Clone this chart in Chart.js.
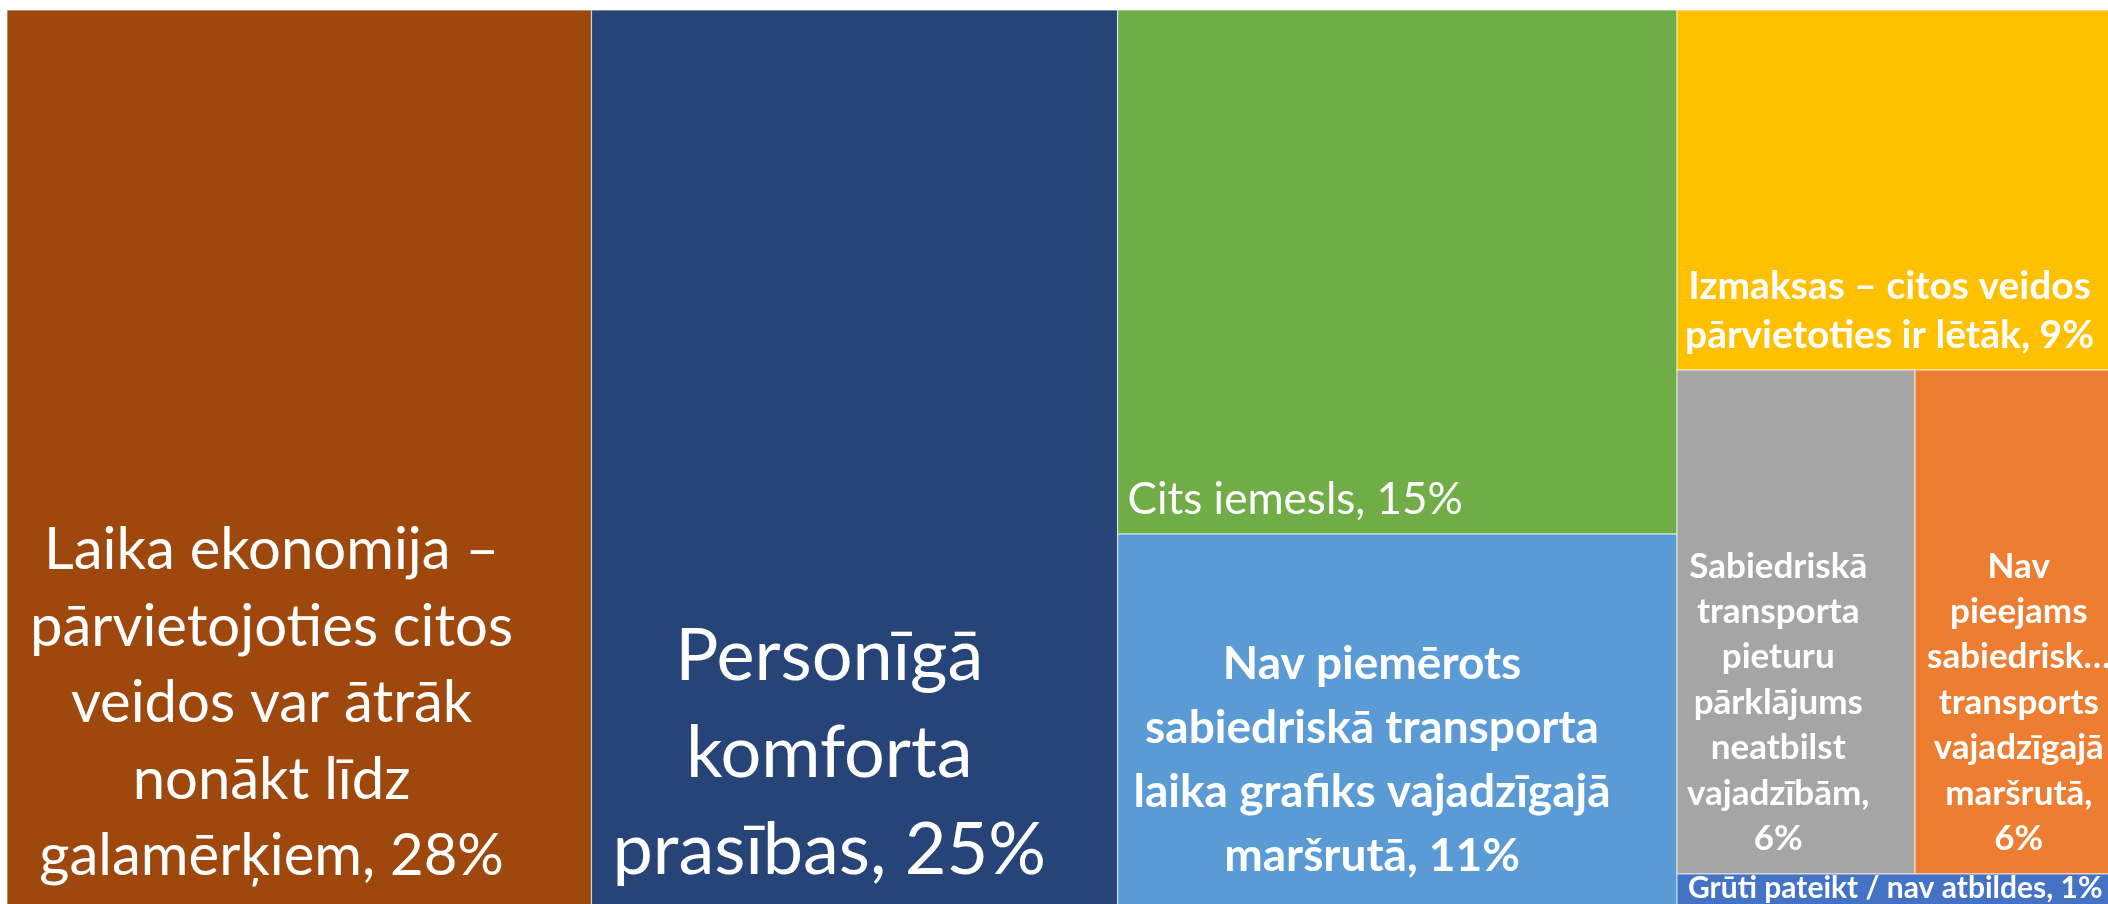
<!DOCTYPE html>
<html><head><meta charset="utf-8">
<script src="https://cdn.jsdelivr.net/npm/chart.js@4.4.1/dist/chart.umd.min.js"></script>
<style>
html,body{margin:0;padding:0;background:#fff;overflow:hidden;width:2108px;height:904px;}
#wrap{position:absolute;left:0;top:0;width:2160px;height:930px;}
</style></head><body>
<div id="wrap"><canvas id="c"></canvas></div>
<script>
// ---- data ----
const categories = [
  'Laika ekonomija – pārvietojoties citos veidos var ātrāk nonākt līdz galamērķiem',
  'Personīgā komforta prasības',
  'Cits iemesls',
  'Nav piemērots sabiedriskā transporta laika grafiks vajadzīgajā maršrutā',
  'Izmaksas – citos veidos pārvietoties ir lētāk',
  'Sabiedriskā transporta pieturu pārklājums neatbilst vajadzībām',
  'Nav pieejams sabiedriskais transports vajadzīgajā maršrutā',
  'Grūti pateikt / nav atbildes'
];
const values = [28.0, 25.2, 15.4, 11.4, 9.0, 6.3, 6.3, 1.2];
const labelLines = [
  ['Laika ekonomija –','pārvietojoties citos','veidos var ātrāk','nonākt līdz','galamērķiem, {p}'],
  ['Personīgā','komforta','prasības, {p}'],
  ['Cits iemesls, {p}'],
  ['Nav piemērots','sabiedriskā transporta','laika grafiks vajadzīgajā','maršrutā, {p}'],
  ['Izmaksas – citos veidos','pārvietoties ir lētāk, {p}'],
  ['Sabiedriskā','transporta','pieturu','pārklājums','neatbilst','vajadzībām,','{p}'],
  ['Nav','pieejams','sabiedrisk…','transports','vajadzīgajā','maršrutā,','{p}'],
  ['Grūti pateikt / nav atbildes, {p}']
];

// ---- styles ----
const colors = ['#9E480E','#264478','#70AD47','#5B9BD5','#FFC000','#A5A5A5','#ED7D31','#4472C4'];
const labelStyle = [
  {weight:400, size:58, lh:76.5, padX:23, padB:47},
  {weight:400, size:72, lh:97,   padX:21, padB:48},
  {weight:400, size:44, lh:58,   padX:10, padB:20},
  {weight:700, size:46, lh:64,   padX:16, padB:51},
  {weight:700, size:39, lh:49,   padX:8,  padB:22},
  {weight:700, size:35, lh:45.4, padX:10, padB:24},
  {weight:700, size:35, lh:45.4, padX:12, padB:24},
  {weight:700, size:30, lh:40,   padX:11, padB:24}
];
const FONT = 'Lato';

function squarify(vals, rect, kx, ky, tol){
  const order = vals.map((v,i)=>i).sort((a,b)=>vals[b]-vals[a]);
  const out = new Array(vals.length);
  let r = Object.assign({}, rect);
  let rest = order.slice();
  let remSum = rest.reduce((s,i)=>s+vals[i],0);
  while(rest.length){
    const wPx=(r.x1-r.x0)*kx, hPx=(r.y1-r.y0)*ky;
    const vertical = wPx >= hPx;
    const side = vertical ? hPx : wPx;
    const worst = row => {
      const s = row.reduce((a,i)=>a+vals[i],0);
      const thick = s/remSum*(vertical ? wPx : hPx);
      let w = 0;
      for(const i of row){ const len = vals[i]/s*side; w = Math.max(w, thick/len, len/thick); }
      return w;
    };
    let row=[rest[0]], cur=worst(row), k=1;
    while(k<rest.length){
      const cand=row.concat(rest[k]); const wv=worst(cand);
      if(wv <= cur*tol){ row=cand; cur=wv; k++; } else break;
    }
    const s=row.reduce((a,i)=>a+vals[i],0), frac=s/remSum;
    if(vertical){
      const xs=r.x0+(r.x1-r.x0)*frac; let y=r.y0;
      for(const i of row){ const y2=y+(r.y1-r.y0)*vals[i]/s; out[i]={x0:r.x0,x1:xs,y0:y,y1:y2}; y=y2; }
      r.x0=xs;
    } else {
      const ys=r.y0+(r.y1-r.y0)*frac; let x=r.x0;
      for(const i of row){ const x2=x+(r.x1-r.x0)*vals[i]/s; out[i]={x0:x,x1:x2,y0:r.y0,y1:ys}; x=x2; }
      r.y0=ys;
    }
    rest=rest.slice(row.length); remSum-=s;
  }
  return out;
}

const treemapPlugin = {
  id:'treemapCells',
  afterDatasetsDraw(chart){
    const ctx=chart.ctx, xs=chart.scales.x, ys=chart.scales.y, ca=chart.chartArea;
    const kx=ca.width/(xs.max-xs.min), ky=ca.height/(ys.max-ys.min);
    const cells=squarify(values,{x0:xs.min,x1:xs.max,y0:ys.min,y1:ys.max},kx,ky,1.25);
    cells.forEach((c,i)=>{
      const px0=xs.getPixelForValue(c.x0), px1=xs.getPixelForValue(c.x1);
      const py0=ys.getPixelForValue(c.y0), py1=ys.getPixelForValue(c.y1);
      ctx.save();
      ctx.fillStyle=colors[i];
      ctx.fillRect(px0,py0,px1-px0,py1-py0);
      ctx.strokeStyle='rgba(255,255,255,0.6)'; ctx.lineWidth=1.2;
      ctx.strokeRect(px0,py0,px1-px0,py1-py0);
      ctx.beginPath(); ctx.rect(px0,py0,px1-px0,py1-py0); ctx.clip();
      const st=labelStyle[i];
      ctx.font=`${st.weight} ${st.size}px ${FONT}`;
      ctx.fillStyle='#ffffff'; ctx.textBaseline='alphabetic'; ctx.textAlign='center';
      const pct=Math.round(values[i])+'%';
      const lines=labelLines[i].map(t=>t.replace('{p}',pct));
      const bw=Math.max(...lines.map(t=>ctx.measureText(t).width));
      const cx=px0+st.padX+bw/2;
      const lastBase=py1-st.padB;
      lines.forEach((t,j)=>{ ctx.fillText(t,cx,lastBase-(lines.length-1-j)*st.lh); });
      ctx.restore();
    });
  }
};

function build(){
  new Chart(document.getElementById('c'),{
    type:'scatter',
    data:{datasets:[{label:'Iemesli',data:[]}]},
    options:{
      responsive:true, maintainAspectRatio:false, animation:false, devicePixelRatio:1,
      layout:{padding:{left:7,top:10,right:7,bottom:8}},
      plugins:{legend:{display:false},tooltip:{enabled:false}},
      scales:{
        x:{type:'linear',min:0,max:100,display:false},
        y:{type:'linear',min:0,max:100,reverse:true,display:false}
      }
    },
    plugins:[treemapPlugin]
  });
}
Promise.all([document.fonts.load('400 40px Lato'),document.fonts.load('700 40px Lato')]).then(build,build);
</script>
</body></html>
